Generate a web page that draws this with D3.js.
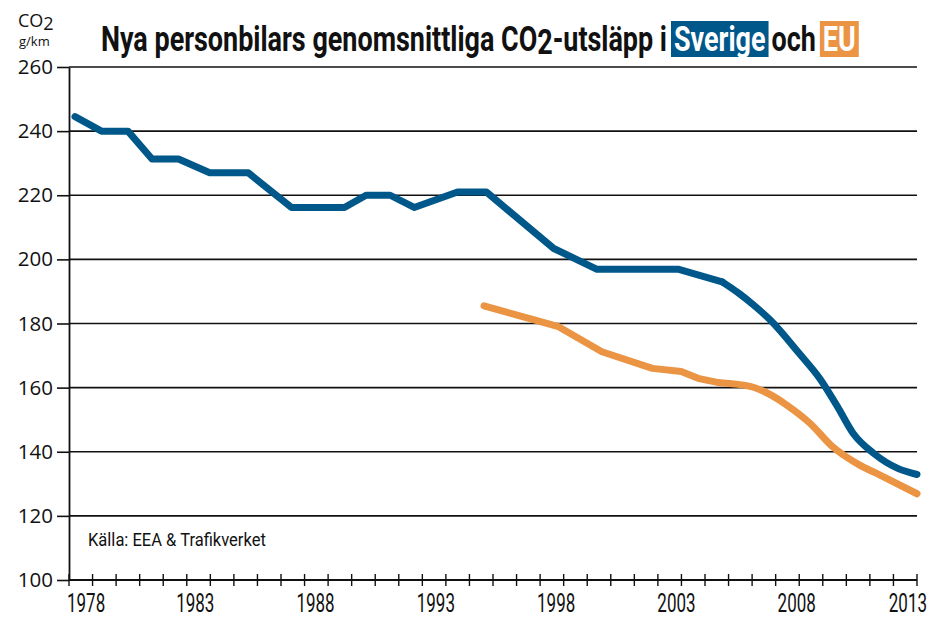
<!DOCTYPE html>
<html>
<head>
<meta charset="utf-8">
<script src="https://cdn.jsdelivr.net/npm/d3@7"></script>
<style>
  body { margin: 0; background: #fff; }
  svg { display: block; }
  .narrow { font-family: "Roboto", "Liberation Sans", sans-serif; }
  .wide { font-family: "Open Sans", "Noto Sans", sans-serif; }
</style>
</head>
<body>
<div id="chart"></div>
<script>
// values
var sverigeYears = [1978, 1979.1, 1980.2, 1981.2, 1982.3, 1983.6, 1985.2, 1987.0, 1989.2, 1990.1,
  1991.1, 1992.1, 1993.9, 1995.1, 1997.9, 1999.7, 2003.1, 2004.9, 2005.6, 2006.2, 2006.9,
  2008.1, 2009.0, 2009.7, 2010.35, 2011.2, 2012.2, 2013];
var sverigeValues = [244.5, 240, 240, 231.3, 231.3, 227, 227, 216.2, 216.2, 220,
  220, 216.2, 221, 221, 203.4, 196.9, 196.9, 193, 189.4, 185.8, 181.1,
  170.7, 162.4, 154, 145.7, 139.5, 134.8, 132.9];

var euYears = [1995, 1998.1, 1999.9, 2002.0, 2003.2, 2003.9, 2004.8, 2006.1, 2006.75, 2007.6,
  2008.55, 2009.5, 2010.6, 2011.3, 2013];
var euValues = [185.5, 179, 171.2, 166, 165, 162.9, 161.5, 160.3, 158.4, 154.5,
  148.9, 141.5, 135.9, 133.3, 126.9];

var yTicks = [100, 120, 140, 160, 180, 200, 220, 240, 260];
var xLabels = [1978, 1983, 1988, 1993, 1998, 2003, 2008, 2013];
var xTickCount = 37;

var blue = "#00578a";
var orange = "#eb9443";

var svgWidth = 932;
var svgHeight = 618;
var margin = { top: 67, right: 15, bottom: 38, left: 69 };
var chartWidth = svgWidth - margin.left - margin.right;
var chartHeight = svgHeight - margin.top - margin.bottom;

var svg = d3.select("#chart")
  .append("svg")
  .attr("width", svgWidth)
  .attr("height", svgHeight);

var chartGroup = svg.append("g")
  .attr("transform", `translate(${margin.left}, ${margin.top})`);

var xScale = d3.scaleLinear()
  .domain([1977.75, 2013])
  .range([0, chartWidth]);

var yScale = d3.scaleLinear()
  .domain([100, 260])
  .range([chartHeight, 0]);

// condensed text: a normal font squeezed sideways
function squeezed(parent, x, y, str, size, sx, anchor) {
  var g = parent.append("g")
    .attr("transform", `translate(${x}, ${y}) scale(${sx}, 1)`);
  g.append("text")
    .attr("class", "narrow")
    .attr("font-size", size)
    .attr("text-anchor", anchor || "start")
    .attr("fill", "#111")
    .text(str);
  return g;
}

// horizontal grid
chartGroup.append("g")
  .selectAll("line")
  .data(yTicks.slice(1))
  .enter()
  .append("line")
  .attr("x1", 0)
  .attr("x2", chartWidth)
  .attr("y1", d => yScale(d))
  .attr("y2", d => yScale(d))
  .attr("stroke", "#111")
  .attr("stroke-width", 1.6);

// left axis
var leftAxis = d3.axisLeft(yScale)
  .tickValues(yTicks)
  .tickSize(12)
  .tickSizeOuter(0)
  .tickPadding(4);

var yAxisG = chartGroup.append("g").call(leftAxis);
yAxisG.select(".domain").attr("stroke", "#111").attr("stroke-width", 1.8);
yAxisG.selectAll(".tick line").attr("stroke", "#111").attr("stroke-width", 1.6);
yAxisG.selectAll(".tick text")
  .attr("class", "wide")
  .attr("font-size", 20.5)
  .attr("fill", "#111");

// bottom axis: line, evenly spaced tick marks, year labels
var tickScale = d3.scaleLinear().domain([0, xTickCount - 1]).range([0, chartWidth]);
var bottomG = chartGroup.append("g")
  .attr("transform", `translate(0, ${chartHeight})`);

bottomG.append("line")
  .attr("x1", 0).attr("x2", chartWidth)
  .attr("stroke", "#111").attr("stroke-width", 2.2);

bottomG.selectAll("line.tk")
  .data(d3.range(xTickCount))
  .enter()
  .append("line")
  .attr("class", "tk")
  .attr("x1", d => tickScale(d)).attr("x2", d => tickScale(d))
  .attr("y1", -6).attr("y2", 6)
  .attr("stroke", "#111").attr("stroke-width", 1.4);

xLabels.forEach(function(d, i) {
  var last = i == xLabels.length - 1;
  var lx = i == 0 ? -2 : (last ? chartWidth + 10 : xScale(d));
  var anchor = i == 0 ? "start" : (last ? "end" : "middle");
  squeezed(bottomG, lx, 31.5, d, 25, 0.68, anchor);
});

// lines: straight pieces early, smooth towards the end
var sverige = sverigeYears.map((d, i) => ({ year: d, value: sverigeValues[i] }));
var eu = euYears.map((d, i) => ({ year: d, value: euValues[i] }));

function drawSeries(data, splitYear, colour) {
  var straight = d3.line()
    .x(d => xScale(d.year))
    .y(d => yScale(d.value));
  var smooth = d3.line()
    .curve(d3.curveMonotoneX)
    .x(d => xScale(d.year))
    .y(d => yScale(d.value));
  var parts = [
    { d: data.filter(p => p.year <= splitYear), gen: straight },
    { d: data.filter(p => p.year >= splitYear), gen: smooth }
  ];
  parts.forEach(function(part) {
    chartGroup.append("path")
      .datum(part.d)
      .attr("d", part.gen)
      .attr("fill", "none")
      .attr("stroke", colour)
      .attr("stroke-width", 7)
      .attr("stroke-linejoin", "round")
      .attr("stroke-linecap", "round");
  });
}

drawSeries(eu, 2004.8, orange);
drawSeries(sverige, 2004.9, blue);

// source note
squeezed(chartGroup, 19, 479, "Källa: EEA & Trafikverket", 19, 0.87);

// unit label top left
var unit = svg.append("text")
  .attr("class", "wide")
  .attr("x", 18)
  .attr("y", 27)
  .attr("font-size", 18)
  .attr("fill", "#111");
unit.append("tspan").text("CO");
unit.append("tspan").attr("dy", 3).text("2");

svg.append("text")
  .attr("class", "wide")
  .attr("x", 19)
  .attr("y", 46)
  .attr("font-size", 13)
  .attr("fill", "#111")
  .text("g/km");

// title, built piece by piece so the boxes fit the words
var titleParts = [
  { t: "Nya personbilars genomsnittliga CO", box: null },
  { t: "2", box: null, sub: true },
  { t: "-utsläpp i", box: null },
  { t: "Sverige", box: blue, gap: 4 },
  { t: "och", box: null, gap: 3 },
  { t: "EU", box: orange, gap: 4 }
];

var titleSx = 0.77;
var titleG = svg.append("g");
var tx = 101;
var titleY = 51;
titleParts.forEach(function(p) {
  tx += p.gap || 0;
  var pad = p.box ? 3 : 0;
  var rect = null;
  if (p.box) {
    rect = titleG.append("rect").attr("fill", p.box).attr("y", 21).attr("height", 36);
  }
  var g = titleG.append("g")
    .attr("transform", `translate(${tx + pad}, ${titleY + (p.sub ? 3 : 0)}) scale(${titleSx}, 1)`);
  var t = g.append("text")
    .attr("class", "narrow")
    .attr("font-size", 35)
    .attr("font-weight", "bold")
    .attr("fill", p.box ? "#fff" : "#111")
    .text(p.t);
  var w = t.node().getComputedTextLength() * titleSx;
  if (rect) rect.attr("x", tx).attr("width", w + pad * 2);
  tx += w + pad * 2;
});
</script>
</body>
</html>
